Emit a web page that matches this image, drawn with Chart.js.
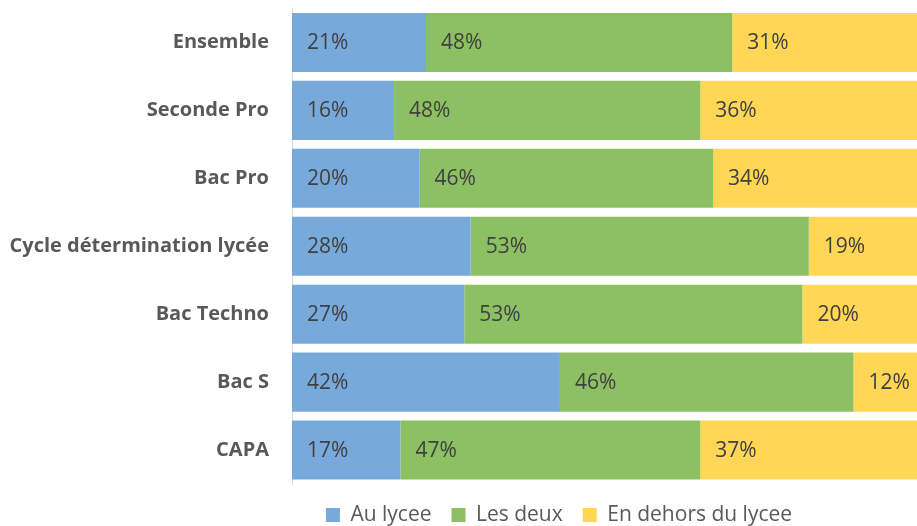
<!DOCTYPE html>
<html>
<head>
<meta charset="utf-8">
<script src="https://cdn.jsdelivr.net/npm/chart.js@4.4.1/dist/chart.umd.min.js"></script>
<style>
  html, body { margin: 0; padding: 0; background: #fff; overflow: hidden; }
  #wrap { position: relative; width: 940px; height: 526px; }
</style>
</head>
<body>
<div id="wrap"><canvas id="chart"></canvas></div>
<script>
const categories = ['Ensemble', 'Seconde Pro', 'Bac Pro', 'Cycle détermination lycée', 'Bac Techno', 'Bac S', 'CAPA']
const auLycee = [21, 16, 20, 28, 27, 42, 17]
const lesDeux = [48, 48, 46, 53, 53, 46, 47]
const enDehors = [31, 36, 34, 19, 20, 12, 37]

const FONT = "'Open Sans', 'Noto Sans', sans-serif"
const LEGEND_PAD = 20

// draws "21%" etc. at the start of each segment
const segmentLabels = {
    id: 'segmentLabels',
    afterDatasetsDraw(chart) {
        const ctx = chart.ctx
        ctx.save()
        ctx.font = '21px ' + FONT
        ctx.fillStyle = '#404040'
        ctx.textBaseline = 'middle'
        ctx.textAlign = 'left'
        chart.data.datasets.forEach((ds, i) => {
            chart.getDatasetMeta(i).data.forEach((bar, j) => {
                ctx.fillText(ds.data[j] + '%', Math.min(bar.base, bar.x) + 15, bar.y + 1)
            })
        })
        ctx.restore()
    }
}

// Excel centres the legend on a wider area than the canvas shows
const placeLegend = {
    id: 'placeLegend',
    afterLayout(chart) {
        const lg = chart.legend
        const h = lg.bottom - lg.top
        lg.left += 94
        lg.right += 94
        lg.top = 515 - 10.5 - LEGEND_PAD
        lg.bottom = lg.top + h
    }
}

new Chart(document.getElementById('chart'), {
    type: 'bar',
    data: {
        labels: categories,
        datasets: [
            { label: 'Au lycee', data: auLycee, backgroundColor: '#77aadb' },
            { label: 'Les deux', data: lesDeux, backgroundColor: '#8cc062' },
            { label: 'En dehors du lycee', data: enDehors, backgroundColor: '#ffd655' },
        ],
    },
    options: {
        indexAxis: 'y',
        responsive: true,
        maintainAspectRatio: false,
        animation: false,
        layout: { padding: { top: 8.5, right: 10, bottom: -9, left: 0 } },
        datasets: { bar: { categoryPercentage: 1, barPercentage: 0.87 } },
        scales: {
            x: { stacked: true, min: 0, max: 100, display: false },
            y: {
                stacked: true,
                grid: { display: false, drawTicks: false },
                border: { display: true, color: '#d9d9d9', width: 1 },
                ticks: {
                    padding: 23,
                    color: '#595959',
                    font: { family: FONT, size: 20, weight: 'bold' },
                },
                afterFit(scale) {
                    scale.width = 292
                    scale.paddingTop = 0
                    scale.paddingBottom = 0
                },
            },
        },
        plugins: {
            legend: {
                position: 'bottom',
                labels: {
                    boxWidth: 14,
                    boxHeight: 14,
                    padding: LEGEND_PAD,
                    color: '#595959',
                    font: { family: FONT, size: 21 },
                },
            },
            tooltip: { enabled: false },
        },
    },
    plugins: [segmentLabels, placeLegend],
})
</script>
</body>
</html>
